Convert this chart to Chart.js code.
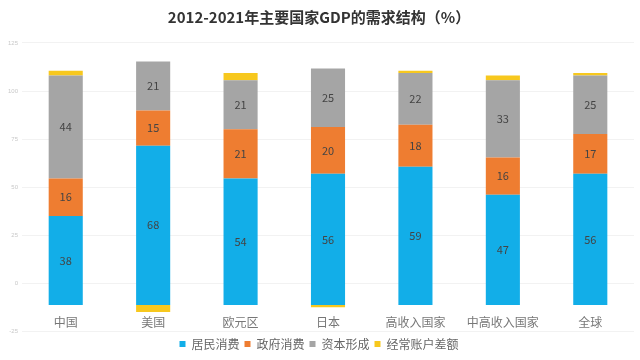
<!DOCTYPE html>
<html>
<head>
<meta charset="utf-8">
<script src="https://cdn.jsdelivr.net/npm/chart.js@4/dist/chart.umd.min.js"></script>
<style>
  html, body { margin: 0; padding: 0; background: #fff; }
  #wrap { width: 640px; height: 360px; position: relative; }
</style>
</head>
<body>
<div id="wrap"><canvas id="myChart"></canvas></div>
<script>
var regions = ['中国', '美国', '欧元区', '日本', '高收入国家', '中高收入国家', '全球'];
var householdVals = [38, 68, 54, 56, 59, 47, 56];
var governmentVals = [16, 15, 21, 20, 18, 16, 17];
var capitalVals = [44, 21, 21, 25, 22, 33, 25];
var currentAccVals = [2, -3, 3, -1, 1, 2, 1];
var axisTicks = [-25, 0, 25, 50, 75, 100, 125];

var seriesNames = ['居民消费', '政府消费', '资本形成', '经常账户差额'];
var seriesColors = ['#12aee8', '#ee7d31', '#a5a5a5', '#f7c81e'];

// write the value in the middle of each segment (not for the yellow one)
var barValues = {
    id: 'barValues',
    afterDatasetsDraw: function(chart) {
        var ctx = chart.ctx;
        ctx.save();
        ctx.font = '11px "Noto Sans CJK SC", sans-serif';
        ctx.fillStyle = '#444';
        ctx.textAlign = 'center';
        ctx.textBaseline = 'middle';
        for (var d = 0; d < 3; d++) {
            var meta = chart.getDatasetMeta(d);
            meta.data.forEach(function(bar, i) {
                var v = chart.data.datasets[d].data[i];
                ctx.fillText(v, bar.x, (bar.y + bar.base) / 2);
            });
        }
        ctx.restore();
    }
};

var datasets = [householdVals, governmentVals, capitalVals, currentAccVals].map(function(vals, k) {
    return {
        label: seriesNames[k],
        data: vals,
        backgroundColor: seriesColors[k],
        categoryPercentage: 1,
        barPercentage: 0.39
    };
});

const ctx = document.getElementById('myChart').getContext('2d');
const myChart = new Chart(ctx, {
    type: 'bar',
    data: { labels: regions, datasets: datasets },
    plugins: [barValues],
    options: {
        responsive: true,
        maintainAspectRatio: false,
        animation: false,
        layout: { padding: { left: 4, right: 6, top: 0, bottom: 0 } },
        plugins: {
            title: {
                display: true,
                text: '2012-2021年主要国家GDP的需求结构（%）',
                color: '#333',
                font: { family: '"Noto Sans CJK SC", sans-serif', size: 15, weight: 'bold' },
                padding: { top: 8, bottom: 12 }
            },
            legend: {
                position: 'bottom',
                labels: {
                    boxWidth: 6,
                    boxHeight: 6,
                    color: '#666',
                    padding: 5,
                    font: { family: '"Noto Sans CJK SC", sans-serif', size: 12 }
                }
            },
            tooltip: { enabled: false }
        },
        scales: {
            x: {
                stacked: true,
                position: { y: 0 },
                grid: { display: false },
                border: { display: false },
                ticks: {
                    color: '#777',
                    padding: 2,
                    font: { family: '"Noto Sans CJK SC", sans-serif', size: 12 }
                }
            },
            y: {
                stacked: true,
                display: false,
                min: -12,
                max: 114
            },
            y2: {
                position: 'left',
                min: -26,
                max: 127.6,
                afterBuildTicks: function(axis) {
                    axis.ticks = axisTicks.map(function(v) { return { value: v }; });
                },
                grid: { color: '#f2f2f2', drawTicks: false },
                border: { display: false },
                ticks: {
                    color: '#c8c8c8',
                    padding: 4,
                    font: { size: 6 }
                }
            }
        }
    }
});
</script>
</body>
</html>
